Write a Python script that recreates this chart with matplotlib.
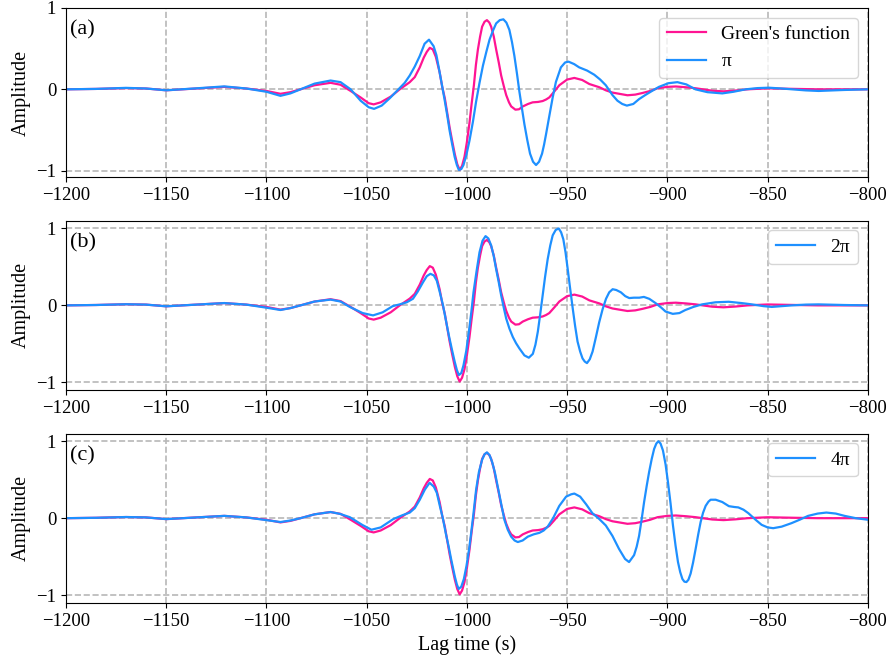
import numpy as np
import matplotlib
matplotlib.use("Agg")
import matplotlib.pyplot as plt

plt.rcParams['font.family'] = 'serif'
plt.rcParams['font.serif'] = ['Liberation Serif', 'DejaVu Serif']

# ---- Green's function (reference waveform, same in every panel) ----
t_green = [-1200, -1185, -1170, -1160, -1150, -1135, -1121, -1110, -1100, -1093,
           -1088, -1083, -1076, -1068, -1063, -1058, -1053, -1049, -1046.5, -1043,
           -1038, -1033.5, -1028.5, -1026, -1023.5, -1021.5, -1020, -1018.5, -1017, -1015.5,
           -1013.6, -1012.3, -1011, -1009.8, -1008.6, -1007.3, -1006, -1004.8, -1003.6, -1002.4,
           -1001.2, -1000, -998.7, -997.6, -996.5, -995.5, -994.5, -993.4, -992.4, -991.2,
           -990, -988.8, -987.9, -986.6, -985.4, -984.1, -982.9, -981.6, -980.4, -979,
           -977.9, -975.8, -974, -972.1, -969.5, -967.2, -964.5, -962.2, -960.5, -958.9,
           -956.5, -953.9, -950, -946.4, -942.5, -938.9, -934, -930.6, -927.4, -924,
           -919.9, -916, -912.4, -908.5, -904.9, -900, -895.8, -890.5, -885.9, -881,
           -877.6, -872, -866, -860, -850, -838, -825, -812, -800]
green = [0.0, 0.005, 0.015, 0.01, -0.012, 0.01, 0.03, 0.01, -0.02, -0.055,
         -0.035, 0.0, 0.05, 0.08, 0.056, -0.02, -0.10, -0.17, -0.185, -0.16,
         -0.09, 0.0, 0.088, 0.15, 0.27, 0.39, 0.46, 0.51, 0.49, 0.40,
         0.21, 0.03, -0.11, -0.29, -0.47, -0.64, -0.80, -0.92, -0.99, -0.94,
         -0.83, -0.65, -0.41, -0.17, 0.05, 0.30, 0.49, 0.65, 0.77, 0.83,
         0.85, 0.82, 0.77, 0.65, 0.49, 0.33, 0.17, 0.04, -0.07, -0.16,
         -0.21, -0.25, -0.245, -0.21, -0.18, -0.16, -0.155, -0.144, -0.125, -0.10,
         -0.03, 0.05, 0.12, 0.14, 0.115, 0.065, 0.026, -0.013, -0.04, -0.055,
         -0.073, -0.065, -0.045, -0.02, 0.013, 0.03, 0.035, 0.025, 0.013, -0.005,
         -0.017, -0.025, -0.015, 0.0, 0.012, 0.006, 0.0, 0.0, 0.0]

# ---- pi ----
t_pi = [-1200, -1185, -1170, -1160, -1150, -1135, -1121, -1110, -1100, -1093,
        -1088, -1083, -1076, -1068, -1063, -1058, -1053, -1049, -1046.3, -1042.5,
        -1038.5, -1033.5, -1031, -1028.5, -1026, -1023.5, -1021.1, -1018.9, -1016.6, -1015.2,
        -1013.9, -1012.5, -1011.1, -1009.8, -1008.6, -1007.3, -1006.1, -1005, -1004, -1002.8,
        -1001.7, -1000.2, -998.7, -997, -995.4, -993.7, -992, -990.3, -988.7, -987,
        -985.4, -983.6, -981.8, -980.3, -978.8, -977.5, -976.3, -975, -973.8, -972.5,
        -971.3, -969.9, -968.5, -967, -965.5, -964, -962.5, -961.5, -960.5, -958.9,
        -957.2, -955.6, -953.1, -951, -949.3, -946.5, -944, -940, -936.5, -933.5,
        -930.7, -927.4, -924.9, -922.5, -920.2, -917, -914.1, -911, -908, -904.2,
        -899.5, -895, -890.5, -886, -880, -872.6, -867, -861, -855, -849.4,
        -843, -837.8, -831, -824.5, -812, -800]
pi_1 = [0.0, 0.005, 0.018, 0.01, -0.012, 0.012, 0.036, 0.01, -0.03, -0.08,
        -0.05, 0.0, 0.07, 0.108, 0.088, 0.0, -0.14, -0.22, -0.24, -0.20,
        -0.11, 0.016, 0.08, 0.17, 0.28, 0.41, 0.56, 0.61, 0.53, 0.42,
        0.25, 0.06, -0.13, -0.32, -0.51, -0.68, -0.83, -0.93, -0.99, -0.98,
        -0.93, -0.80, -0.63, -0.40, -0.15, 0.08, 0.29, 0.46, 0.61, 0.72,
        0.81, 0.85, 0.86, 0.82, 0.73, 0.58, 0.41, 0.19, -0.03, -0.24,
        -0.43, -0.62, -0.79, -0.89, -0.93, -0.89, -0.79, -0.68, -0.55, -0.33,
        -0.10, 0.09, 0.27, 0.33, 0.34, 0.31, 0.27, 0.23, 0.18, 0.12,
        0.05, -0.07, -0.14, -0.18, -0.20, -0.18, -0.12, -0.07, -0.025, 0.03,
        0.075, 0.088, 0.06, 0.0, -0.035, -0.05, -0.03, 0.0, 0.015, 0.02,
        0.01, 0.0, -0.013, -0.02, -0.008, 0.0]

# ---- 2pi ----
t_2pi = [-1200, -1185, -1170, -1160, -1150, -1135, -1121, -1110, -1100, -1093,
         -1088, -1083, -1076, -1068, -1063, -1058.4, -1052, -1046.8, -1042, -1037,
         -1033.5, -1030, -1026.9, -1024.5, -1021.9, -1020, -1018.2, -1016.5, -1015, -1013.5,
         -1011.9, -1010.5, -1009, -1007.5, -1006.1, -1005, -1004, -1002.8, -1001.7, -1000.3,
         -999, -997.8, -996.7, -995.2, -993.7, -992.2, -990.7, -989.3, -987.9, -986.6,
         -985.4, -984.1, -982.9, -981.6, -980.4, -978.8, -977.1, -975.5, -973.8, -971.3,
         -969.1, -967.1, -965.8, -964.6, -963.4, -962.2, -961, -959.7, -958.4, -957.2,
         -955.7, -954.2, -953, -951.9, -950.8, -949.7, -948.5, -947.2, -946, -944.8,
         -943.5, -942.3, -941.2, -940.1, -938.7, -937.3, -935.7, -934, -932.3, -930.6,
         -929, -927.3, -925.5, -923.2, -921, -919, -916.7, -914, -911.7, -909,
         -905.9, -903, -900.9, -897.3, -894, -891, -887, -882.7, -876, -869.4,
         -863, -857.8, -852, -847.9, -843, -837.9, -831, -824.6, -812, -800]
pi_2 = [0.0, 0.005, 0.015, 0.01, -0.012, 0.01, 0.03, 0.01, -0.03, -0.06,
        -0.035, 0.0, 0.05, 0.075, 0.05, -0.02, -0.10, -0.13, -0.09, -0.01,
        0.013, 0.04, 0.086, 0.18, 0.30, 0.38, 0.41, 0.39, 0.32, 0.17,
        0.0, -0.19, -0.39, -0.57, -0.73, -0.84, -0.905, -0.88, -0.78, -0.59,
        -0.34, -0.09, 0.17, 0.44, 0.69, 0.84, 0.90, 0.87, 0.78, 0.64,
        0.47, 0.30, 0.13, -0.03, -0.17, -0.30, -0.41, -0.49, -0.56, -0.65,
        -0.68, -0.63, -0.51, -0.34, -0.11, 0.13, 0.37, 0.60, 0.78, 0.91,
        0.98, 1.0, 0.95, 0.86, 0.69, 0.47, 0.22, -0.04, -0.27, -0.47,
        -0.60, -0.69, -0.73, -0.75, -0.70, -0.60, -0.42, -0.22, -0.05, 0.086,
        0.17, 0.21, 0.20, 0.17, 0.12, 0.095, 0.10, 0.10, 0.11, 0.085,
        0.03, -0.03, -0.08, -0.11, -0.10, -0.06, -0.02, 0.013, 0.04, 0.047,
        0.03, 0.013, -0.01, -0.02, -0.01, 0.0, 0.01, 0.013, 0.005, 0.0]

# ---- 4pi ----
t_4pi = [-1200, -1185, -1170, -1160, -1150, -1135, -1121, -1110, -1100, -1093,
         -1088, -1083, -1076, -1068, -1063.3, -1058.4, -1052, -1047.6, -1043, -1036.8,
         -1032, -1028.5, -1026, -1023.5, -1021, -1018.6, -1016.5, -1015, -1013.5, -1012,
         -1010.5, -1009, -1007.8, -1006, -1005, -1004.1, -1002.8, -1001.5, -1000.2, -999,
         -998, -996.8, -995.4, -994, -992.4, -991.2, -990, -988.7, -987.4, -986,
         -984.6, -983, -981.3, -979.6, -977.9, -976.2, -974.6, -972.2, -969.6, -966.7,
         -963.8, -961.7, -959.7, -957, -953.9, -950.5, -948, -946.4, -943.5, -940.5,
         -937.4, -934, -930.7, -927.4, -924.1, -921.1, -919.1, -916.6, -915.3, -914.1,
         -912.8, -911.6, -910.3, -909.1, -907.8, -906.6, -905.5, -904.5, -903.4, -902.2,
         -900.9, -899.7, -898.4, -897.2, -895.9, -894.7, -893.6, -892.5, -891.5, -890.5,
         -889.5, -888.4, -887.2, -885.9, -884.6, -883.4, -882.2, -880.9, -879.5, -878.4,
         -875.9, -872.6, -869.3, -866.5, -864.6, -862, -859.6, -856, -853, -850,
         -847.2, -843, -838.1, -834, -829.8, -825, -820.7, -816, -811.6, -806,
         -800]
pi_4 = [0.0, 0.005, 0.015, 0.01, -0.012, 0.01, 0.03, 0.01, -0.025, -0.05,
        -0.03, 0.0, 0.05, 0.08, 0.056, 0.013, -0.09, -0.15, -0.12, -0.013,
        0.04, 0.073, 0.13, 0.24, 0.37, 0.46, 0.41, 0.33, 0.16, 0.0,
        -0.20, -0.38, -0.54, -0.76, -0.86, -0.92, -0.89, -0.79, -0.62, -0.42,
        -0.22, 0.04, 0.37, 0.60, 0.76, 0.83, 0.855, 0.82, 0.73, 0.59,
        0.41, 0.20, -0.02, -0.15, -0.24, -0.29, -0.31, -0.29, -0.24, -0.21,
        -0.19, -0.16, -0.11, 0.0, 0.16, 0.28, 0.31, 0.32, 0.28, 0.18,
        0.065, -0.01, -0.095, -0.23, -0.40, -0.53, -0.57, -0.48, -0.37, -0.23,
        -0.01, 0.21, 0.42, 0.60, 0.77, 0.90, 0.97, 1.0, 0.97, 0.88,
        0.70, 0.47, 0.19, -0.095, -0.36, -0.57, -0.70, -0.79, -0.825, -0.83,
        -0.80, -0.72, -0.58, -0.40, -0.21, -0.05, 0.07, 0.16, 0.215, 0.24,
        0.24, 0.21, 0.156, 0.145, 0.14, 0.11, 0.065, -0.02, -0.086, -0.12,
        -0.13, -0.11, -0.065, -0.02, 0.03, 0.06, 0.073, 0.06, 0.03, 0.0,
        -0.02]

labels = ['(a)', '(b)', '(c)']
series = [(t_pi, pi_1, 'π'), (t_2pi, pi_2, '2π'), (t_4pi, pi_4, '4π')]
ylims = [(-1.08, 0.95), (-1.1, 1.1), (-1.1, 1.1)]

c_green = '#FF1493'
c_blue = '#1E90FF'

fig, axes = plt.subplots(3, 1, figsize=(8.91, 6.61), dpi=100)
fig.subplots_adjust(left=0.074, right=0.974, top=0.988, bottom=0.088, hspace=0.257)

for i, ax in enumerate(axes):
    t_b, y_b, name = series[i]
    if i == 0:
        ax.plot(t_green, green, color=c_green, lw=1.6, label="Green's function")
    else:
        ax.plot(t_green, green, color=c_green, lw=1.6)
    ax.plot(t_b, y_b, color=c_blue, lw=1.6, label=name)

    ax.set_xlim(-1200, -800)
    ax.set_ylim(*ylims[i])
    ax.set_xticks(np.arange(-1200, -799, 50))
    ax.set_yticks([-1, 0, 1])
    ax.tick_params(labelsize=13.5)
    ax.grid(True, linestyle='--', color='#b8b8b8', lw=1.2)
    ax.set_ylabel('Amplitude', fontsize=14.5)
    ax.text(0.005, 0.925, labels[i], transform=ax.transAxes, va='top', ha='left', fontsize=16)
    ax.legend(loc='upper right', fontsize=14)

axes[-1].set_xlabel('Lag time (s)', fontsize=14.5)

plt.savefig('out.png', dpi=100)
